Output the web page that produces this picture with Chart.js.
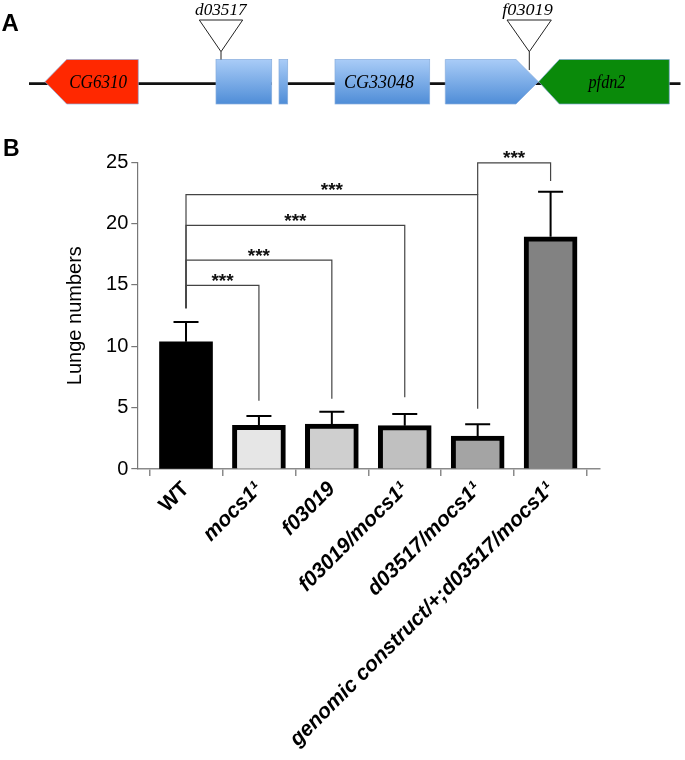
<!DOCTYPE html>
<html>
<head>
<meta charset="utf-8">
<script src="https://cdn.jsdelivr.net/npm/chart.js@4.4.1/dist/chart.umd.min.js"></script>
<style>
  html, body { margin: 0; padding: 0; background: #ffffff; }
  #wrap { position: relative; width: 685px; height: 760px; overflow: hidden; }
  #c { position: absolute; left: 0; top: 0; }
  #panelA { position: absolute; left: 0; top: 0; }
</style>
</head>
<body>
<div id="wrap">
<canvas id="c" width="685" height="760"></canvas>
<svg id="panelA" width="685" height="170" xmlns="http://www.w3.org/2000/svg">
  <defs>
    <linearGradient id="blue" x1="0" y1="0" x2="0" y2="1">
      <stop offset="0" stop-color="#a9ccf7"/>
      <stop offset="1" stop-color="#4f8dd7"/>
    </linearGradient>
  </defs>
  <text x="1.5" y="31" font-family="Liberation Sans, Arial, sans-serif" font-weight="bold" font-size="24">A</text>
  <text x="3" y="156" font-family="Liberation Sans, Arial, sans-serif" font-weight="bold" font-size="23">B</text>
  <!-- backbone -->
  <line x1="29" y1="83.7" x2="272" y2="83.7" stroke="#111" stroke-width="2.8"/>
  <line x1="279" y1="83.7" x2="680.5" y2="83.7" stroke="#111" stroke-width="2.8"/>
  <!-- CG6310 -->
  <polygon points="45,81.7 66.7,59.5 138.3,59.5 138.3,104 66.7,104" fill="#ff2800" stroke="#8fb0de" stroke-width="0.7"/>
  <text x="98.2" y="88.4" font-family="Liberation Serif, Times New Roman, serif" font-style="italic" font-size="18" text-anchor="middle" textLength="58" lengthAdjust="spacingAndGlyphs">CG6310</text>
  <!-- CG33048 exons -->
  <rect x="216" y="59.5" width="55.7" height="44.5" fill="url(#blue)" stroke="#86acdc" stroke-width="0.7"/>
  <rect x="279" y="59.5" width="8.7" height="44.5" fill="url(#blue)" stroke="#86acdc" stroke-width="0.7"/>
  <rect x="335" y="59.5" width="94.7" height="44.5" fill="url(#blue)" stroke="#86acdc" stroke-width="0.7"/>
  <text x="379" y="88.4" font-family="Liberation Serif, Times New Roman, serif" font-style="italic" font-size="18" text-anchor="middle" textLength="70" lengthAdjust="spacingAndGlyphs">CG33048</text>
  <polygon points="445.3,59.5 516,59.5 538.3,81.7 516,104 445.3,104" fill="url(#blue)" stroke="#86acdc" stroke-width="0.7"/>
  <!-- pfdn2 -->
  <polygon points="538.7,81.7 559.3,59.5 669.3,59.5 669.3,104 559.3,104" fill="#0a8a0a" stroke="#7fa6d6" stroke-width="0.7"/>
  <text x="607" y="88.4" font-family="Liberation Serif, Times New Roman, serif" font-style="italic" font-size="18" text-anchor="middle" textLength="37" lengthAdjust="spacingAndGlyphs">pfdn2</text>
  <!-- insertions -->
  <polygon points="199.3,20 242.7,20 221,51.7" fill="#fff" stroke="#222" stroke-width="1"/>
  <line x1="221" y1="51.7" x2="221" y2="59.5" stroke="#222" stroke-width="1"/>
  <text x="220.8" y="15" font-family="Liberation Serif, Times New Roman, serif" font-style="italic" font-size="16" text-anchor="middle" textLength="51.5" lengthAdjust="spacingAndGlyphs">d03517</text>
  <polygon points="507,20 551.3,20 529.3,51.7" fill="#fff" stroke="#222" stroke-width="1"/>
  <line x1="529.3" y1="51.7" x2="529.3" y2="70" stroke="#222" stroke-width="1"/>
  <text x="527.5" y="15" font-family="Liberation Serif, Times New Roman, serif" font-style="italic" font-size="16" text-anchor="middle" textLength="50.5" lengthAdjust="spacingAndGlyphs">f03019</text>
</svg>
</div>
<script>
// ---- data ----
const categories = ['WT', 'mocs1\u00B9', 'f03019', 'f03019/mocs1\u00B9', 'd03517/mocs1\u00B9', 'genomic construct/+;d03517/mocs1\u00B9'];
const meanValues = [10.37, 3.56, 3.67, 3.53, 2.69, 18.93];
const semValues = [1.61, 0.76, 1.00, 0.95, 0.95, 3.67];
const yTicks = [0, 5, 10, 15, 20, 25];
// significance brackets (category indices and y-values)
const bracketFrom = [0, 0, 0, 0, 4];
const bracketTo = [1, 2, 3, 4, 5];
const bracketLevel = [14.97, 17.03, 19.86, 22.36, 24.96];
const bracketFromEnd = [13.1, 13.1, 13.1, 13.1, 22.36];
const bracketToEnd = [5.57, 5.73, 5.84, 4.92, 23.47];
const bracketLabels = ['***', '***', '***', '***', '***'];

// ---- styles ----
const barColors = ['#000000', '#e6e6e6', '#cfcfcf', '#c0c0c0', '#a4a4a4', '#828282'];
const barBorders = [0, 5, 5, 5, 5, 5];
const sansFamily = '"Liberation Sans", Arial, Helvetica, sans-serif';

const errorBarPlugin = {
  id: 'errorBars',
  afterDatasetsDraw(chart) {
    const ctx = chart.ctx;
    const meta = chart.getDatasetMeta(0);
    const ys = chart.scales.y;
    ctx.save();
    ctx.strokeStyle = '#000';
    ctx.lineWidth = 2;
    meta.data.forEach((bar, i) => {
      const x = bar.x;
      const yb = bar.y;
      const yt = ys.getPixelForValue(meanValues[i] + semValues[i]);
      ctx.beginPath();
      ctx.moveTo(x, yb);
      ctx.lineTo(x, yt);
      ctx.moveTo(x - 12.5, yt);
      ctx.lineTo(x + 12.5, yt);
      ctx.stroke();
    });
    ctx.restore();
  }
};

const bracketPlugin = {
  id: 'brackets',
  afterDraw(chart) {
    const ctx = chart.ctx;
    const xs = chart.scales.x;
    const ys = chart.scales.y;
    ctx.save();
    ctx.strokeStyle = '#444';
    ctx.lineWidth = 1.2;
    ctx.fillStyle = '#111';
    ctx.font = 'bold 19px ' + sansFamily;
    ctx.textAlign = 'center';
    ctx.textBaseline = 'alphabetic';
    bracketFrom.forEach((f, i) => {
      const x1 = xs.getPixelForValue(f);
      const x2 = xs.getPixelForValue(bracketTo[i]);
      const yl = ys.getPixelForValue(bracketLevel[i]);
      ctx.beginPath();
      ctx.moveTo(x1, ys.getPixelForValue(bracketFromEnd[i]));
      ctx.lineTo(x1, yl);
      ctx.lineTo(x2, yl);
      ctx.lineTo(x2, ys.getPixelForValue(bracketToEnd[i]));
      ctx.stroke();
      ctx.fillText(bracketLabels[i], (x1 + x2) / 2, yl + 1.5);
    });
    ctx.restore();
  }
};

new Chart(document.getElementById('c'), {
  type: 'bar',
  data: {
    datasets: [{
      data: meanValues.map((v, i) => ({ x: i, y: v })),
      backgroundColor: barColors,
      borderColor: '#000000',
      borderWidth: barBorders,
      borderSkipped: 'start',
      barThickness: 53
    }]
  },
  options: {
    responsive: false,
    animation: false,
    devicePixelRatio: 1,
    layout: { padding: { top: 162.3, right: 85.7, left: 0, bottom: 0 } },
    plugins: { legend: { display: false }, tooltip: { enabled: false } },
    scales: {
      x: {
        type: 'linear',
        min: -0.668,
        max: 5.668,
        offset: false,
        afterBuildTicks: (s) => { s.ticks = categories.map((_, i) => ({ value: i })); },
        afterFit: (s) => { s.height = 291; },
        grid: { drawOnChartArea: false, drawTicks: true, tickLength: 7, color: '#8a8a8a', lineWidth: 1.5 },
        border: { display: true, color: '#8a8a8a', width: 1.5 },
        ticks: {
          autoSkip: false,
          minRotation: 45,
          maxRotation: 45,
          padding: 1,
          color: '#000',
          callback: (v) => categories[v] !== undefined ? categories[v] : '',
          font: (ctx) => ({ family: sansFamily, size: 21, weight: 'bold', style: ctx.index === 0 ? 'normal' : 'italic' })
        }
      },
      y: {
        min: 0,
        max: 25,
        afterBuildTicks: (s) => { s.ticks = yTicks.map(v => ({ value: v })); },
        afterFit: (s) => { s.width = 137.3; },
        grid: { drawOnChartArea: false, drawTicks: true, tickLength: 6, color: '#777', lineWidth: 1.2 },
        border: { display: true, color: '#777', width: 1.2 },
        ticks: { padding: 3, color: '#000', font: { family: sansFamily, size: 20 } },
        title: {
          display: true,
          text: 'Lunge numbers',
          color: '#000',
          font: { family: sansFamily, size: 20 },
          padding: { top: 63, bottom: 0 }
        }
      }
    }
  },
  plugins: [errorBarPlugin, bracketPlugin]
});
</script>
</body>
</html>
